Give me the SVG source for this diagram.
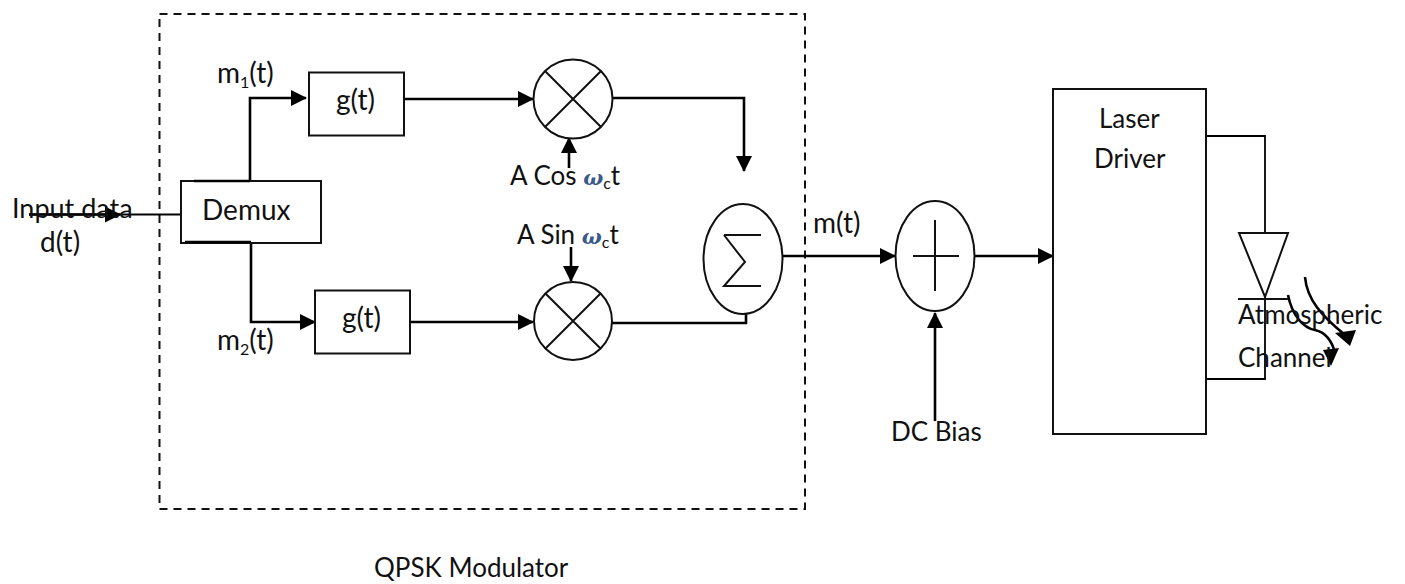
<svg xmlns="http://www.w3.org/2000/svg" width="1405" height="584" viewBox="0 0 1405 584">
<style>
text{font-family:Lato,"Open Sans","Liberation Sans",sans-serif;font-size:26px;fill:#111}
.b{font-size:28px}
.s{fill:#fff;stroke:#111;stroke-width:2}
.n{fill:none;stroke:#111;stroke-width:2}
.c{fill:none;stroke:#000;stroke-width:2.6}
.t{fill:none;stroke:#000;stroke-width:1.8}
.h{fill:#000;stroke:none}
.o{font-family:"DejaVu Serif",serif;font-style:italic;font-weight:bold;font-size:21px;fill:#3a5a8c}
.u{font-size:16px}
</style>
<defs>
<marker id="a" markerUnits="userSpaceOnUse" markerWidth="16" markerHeight="16" refX="15" refY="8" orient="auto"><path class="h" d="M0 0L16 8L0 16Z"/></marker>
</defs>
<g id="modulator"><rect x="159.500" y="14" width="645.500" height="495" fill="none" stroke="#111" stroke-width="2" stroke-dasharray="8 6"/><text x="374" y="577">QPSK Modulator</text></g>
<g id="connectors">
<path class="t" d="M29 214.500H181"/><path class="c" d="M29 214.500H120" marker-end="url(#a)"/>
<path class="c" d="M250 181V98H306" marker-end="url(#a)"/>
<path class="c" d="M251 243V322H315" marker-end="url(#a)"/>
<path class="c" d="M404 99H533" marker-end="url(#a)"/>
<path class="c" d="M410 322H533" marker-end="url(#a)"/>
<path class="c" d="M612 98H744V171" marker-end="url(#a)"/>
<path class="c" d="M612 323H746V314"/>
<path class="c" d="M569 168V138" marker-end="url(#a)"/>
<path class="c" d="M571 247V281" marker-end="url(#a)"/>
<path class="c" d="M783 256H895" marker-end="url(#a)"/>
<path class="c" d="M975 256H1053" marker-end="url(#a)"/>
<path class="c" d="M935 421V313" marker-end="url(#a)"/>
<path class="t" d="M1206 136H1265V233M1265 297V379H1206"/>
<path class="c" d="M1305 277C1307 300 1322 316 1345 335"/><path class="h" d="M1335 333L1356 330L1350 346Z"/>
<path class="c" d="M1288 295C1292 315 1303 328 1315 330C1328 333 1333 345 1335 353"/><path class="h" d="M1323 350L1339 348L1331 366Z"/>
</g>
<g id="demux"><rect class="s" x="181" y="181" width="140" height="62"/><path class="c" d="M194 181H250M185 242H251"/><text x="202" y="220" class="b">Demux</text></g>
<g id="g1"><rect class="s" x="309" y="72.500" width="95" height="63"/><text x="336" y="110" class="b">g(t)</text></g>
<g id="g2"><rect class="s" x="315" y="290.500" width="95" height="63"/><text x="342" y="328" class="b">g(t)</text></g>
<g id="mixer1"><circle class="s" cx="573" cy="99" r="39.500"/><path class="n" d="M545 71L601 127M601 71L545 127"/></g>
<g id="mixer2"><circle class="s" cx="573" cy="321" r="39"/><path class="n" d="M545 293L601 349M601 293L545 349"/></g>
<g id="sum"><ellipse class="s" cx="743" cy="259" rx="39.500" ry="55"/><path class="n" d="M724 235H761M724 235L745 262L724 286H761"/></g>
<g id="adder"><ellipse class="s" cx="935" cy="256" rx="39.500" ry="55"/><path class="n" d="M913 256H959M935 220V291"/></g>
<g id="laser"><rect class="s" x="1053" y="89" width="153" height="345"/><text x="1099" y="128">Laser</text><text x="1094" y="168">Driver</text></g>
<g id="diode"><path class="n" d="M1239 233H1288L1265 297Z"/><path class="n" d="M1238 299H1288"/></g>
<g id="labels">
<text x="12" y="218" font-size="27" style="font-size:27px">Input data</text><text x="40" y="252" class="b">d(t)</text>
<text x="217" y="83" class="b">m<tspan class="u" dy="5">1</tspan><tspan dy="-5">(t)</tspan></text>
<text x="217" y="350" class="b">m<tspan class="u" dy="5">2</tspan><tspan dy="-5">(t)</tspan></text>
<text x="510" y="185">A Cos <tspan class="o">ω</tspan><tspan class="u" dy="4">c</tspan><tspan dy="-4">t</tspan></text>
<text x="517" y="244">A Sin <tspan class="o">ω</tspan><tspan class="u" dy="4">c</tspan><tspan dy="-4">t</tspan></text>
<text x="813" y="233" class="b">m(t)</text>
<text x="891" y="441">DC Bias</text>
<text x="1238" y="324">Atmospheric</text><text x="1238" y="367">Channel</text>
</g>
</svg>
